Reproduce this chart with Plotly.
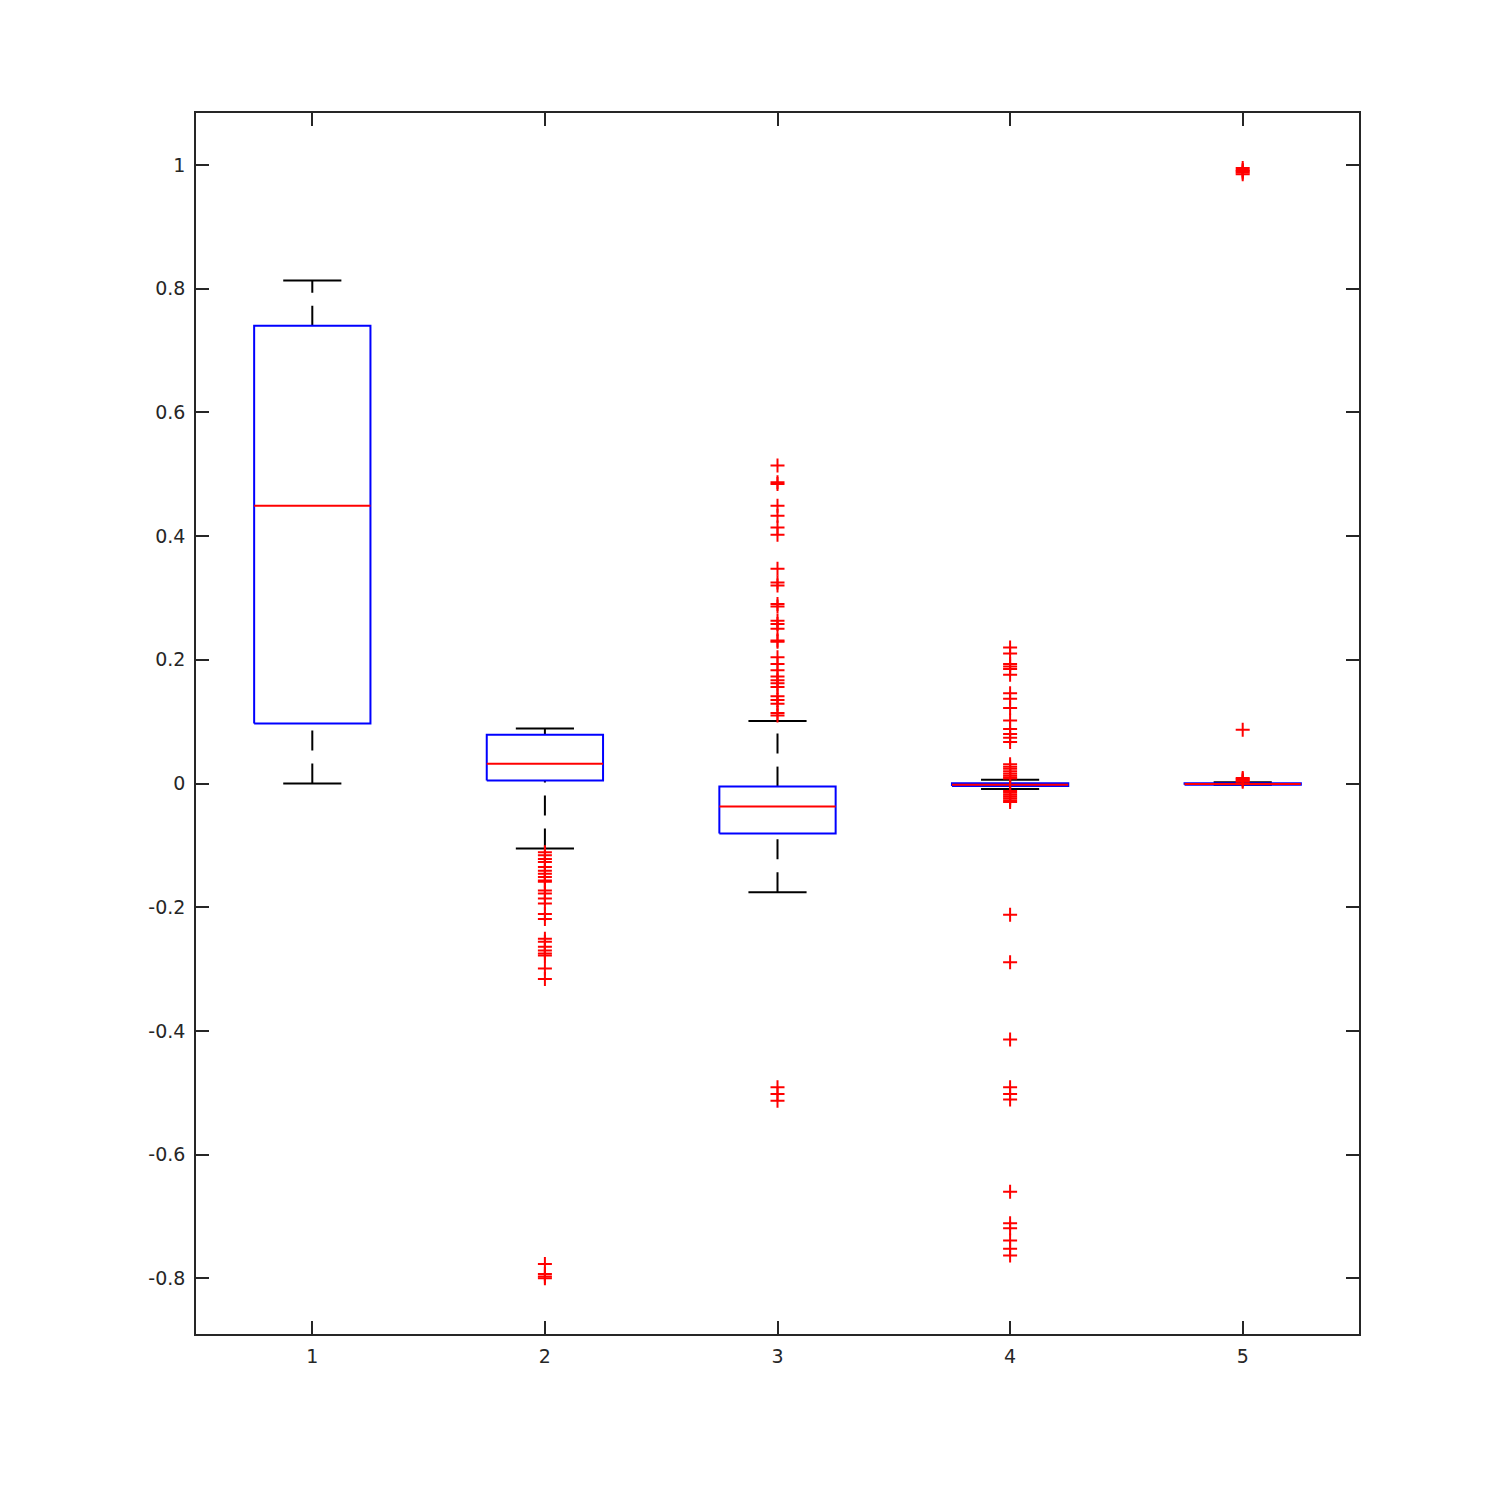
import plotly.graph_objects as go

groups = [1, 2, 3, 4, 5]
q1 = [0.097, 0.005, -0.081, -0.004, -0.002]
median = [0.449, 0.032, -0.037, -0.002, -0.001]
q3 = [0.740, 0.079, -0.005, 0.0005, 0.0005]
whisker_lo = [0.0, -0.105, -0.176, -0.009, -0.002]
whisker_hi = [0.813, 0.089, 0.101, 0.006, 0.002]

outliers = [
    [],
    [-0.111, -0.116, -0.122, -0.127, -0.135, -0.141, -0.146, -0.151, -0.157, -0.159,
     -0.173, -0.178, -0.186, -0.194, -0.211, -0.219, -0.251, -0.256, -0.264, -0.270,
     -0.275, -0.278, -0.299, -0.316, -0.777, -0.793, -0.797, -0.800],
    [0.514, 0.487, 0.484, 0.449, 0.433, 0.414, 0.402, 0.347, 0.325, 0.320, 0.290,
     0.286, 0.263, 0.258, 0.250, 0.231, 0.229, 0.204, 0.193, 0.183, 0.173, 0.167,
     0.162, 0.156, 0.141, 0.135, 0.129, 0.114, 0.110, -0.491, -0.502, -0.513],
    [0.220, 0.210, 0.193, 0.189, 0.185, 0.176, 0.146, 0.137, 0.122, 0.102, 0.088,
     0.080, 0.074, 0.067, 0.031, 0.027, 0.024, 0.020, 0.016, 0.013, 0.010, 0.008,
     -0.012, -0.015, -0.018, -0.021, -0.024, -0.027, -0.030,
     -0.212, -0.289, -0.414, -0.491, -0.502, -0.511, -0.660, -0.711, -0.719,
     -0.739, -0.752, -0.763],
    [0.995, 0.992, 0.990, 0.988, 0.985, 0.087, 0.009, 0.007, 0.005, 0.003],
]

ytick_vals = [-0.8, -0.6, -0.4, -0.2, 0, 0.2, 0.4, 0.6, 0.8, 1]
ytick_text = ["-0.8", "-0.6", "-0.4", "-0.2", "0", "0.2", "0.4", "0.6", "0.8", "1"]
xtick_text = ["1", "2", "3", "4", "5"]

BOX_HALF = 0.25
CAP_HALF = 0.125
AXIS_COLOR = "#262626"

fig = go.Figure()

for i, g in enumerate(groups):
    # whiskers (drawn from low value to high value)
    fig.add_trace(go.Scatter(
        x=[g, g, None, g, g],
        y=[whisker_lo[i], q1[i], None, q3[i], whisker_hi[i]],
        mode="lines", line=dict(color="black", width=2, dash="20px,13px"),
        hoverinfo="skip", showlegend=False))
    # caps
    fig.add_trace(go.Scatter(
        x=[g - CAP_HALF, g + CAP_HALF, None, g - CAP_HALF, g + CAP_HALF],
        y=[whisker_lo[i], whisker_lo[i], None, whisker_hi[i], whisker_hi[i]],
        mode="lines", line=dict(color="black", width=2),
        hoverinfo="skip", showlegend=False))
    # box
    fig.add_trace(go.Scatter(
        x=[g - BOX_HALF, g + BOX_HALF, g + BOX_HALF, g - BOX_HALF, g - BOX_HALF],
        y=[q1[i], q1[i], q3[i], q3[i], q1[i]],
        mode="lines", line=dict(color="#0000FF", width=2),
        hoverinfo="skip", showlegend=False))
    # median
    fig.add_trace(go.Scatter(
        x=[g - BOX_HALF, g + BOX_HALF],
        y=[median[i], median[i]],
        mode="lines", line=dict(color="#FF0000", width=2),
        hoverinfo="skip", showlegend=False))

for i, g in enumerate(groups):
    if outliers[i]:
        fig.add_trace(go.Scatter(
            x=[g] * len(outliers[i]), y=outliers[i], mode="markers",
            marker=dict(symbol="cross-thin", size=10,
                        line=dict(color="#FF0000", width=2)),
            hoverinfo="skip", showlegend=False))

axis_common = dict(
    showline=True, linecolor=AXIS_COLOR, linewidth=1.5, mirror="ticks",
    ticks="inside", ticklen=13, tickwidth=1.5, tickcolor=AXIS_COLOR,
    showgrid=False, zeroline=False,
    tickfont=dict(family="DejaVu Sans", size=19, color=AXIS_COLOR),
)

fig.update_layout(
    width=1500, height=1500,
    margin=dict(l=188, r=149, t=105, b=174),
    plot_bgcolor="white", paper_bgcolor="white",
    xaxis=dict(range=[0.5, 5.5], tickvals=groups, ticktext=xtick_text,
               ticklabelstandoff=4, **axis_common),
    yaxis=dict(range=[-0.89, 1.084], tickvals=ytick_vals, ticktext=ytick_text,
               ticklabelstandoff=5, **axis_common),
)

fig.write_html("out.html")
